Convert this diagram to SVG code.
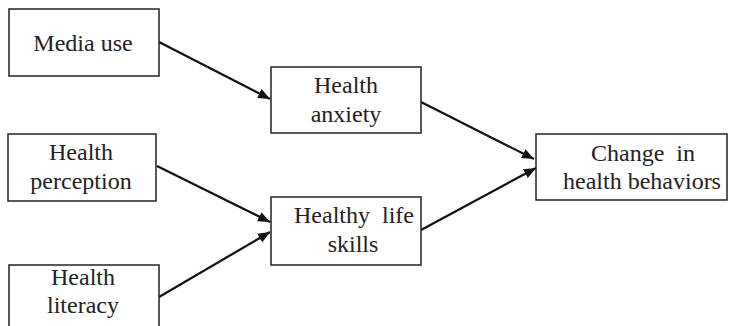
<svg xmlns="http://www.w3.org/2000/svg" width="729" height="326" viewBox="0 0 729 326">
<style>
.box{fill:#fff;stroke:#222;stroke-width:1.5}
.t{font-family:"Liberation Serif","Times New Roman",serif;font-size:24px;fill:#222;text-anchor:middle}
.c{stroke:#111;stroke-width:2.2;fill:none}
</style>
<defs>
<marker id="ah" markerUnits="userSpaceOnUse" markerWidth="14" markerHeight="12" refX="12" refY="5" orient="auto" viewBox="0 0 14 10">
<path d="M0,0 L12,5 L0,10 Z" fill="#111"/>
</marker>
</defs>
<rect width="729" height="326" fill="#fff"/>
<g id="connectors">
<line class="c" x1="159" y1="42" x2="270" y2="99" marker-end="url(#ah)"/>
<line class="c" x1="421" y1="102" x2="534" y2="159" marker-end="url(#ah)"/>
<line class="c" x1="421" y1="230" x2="536" y2="168" marker-end="url(#ah)"/>
<line class="c" x1="157" y1="166" x2="270" y2="222" marker-end="url(#ah)"/>
<line class="c" x1="159" y1="297" x2="270" y2="232" marker-end="url(#ah)"/>
</g>
<g id="media-use">
<rect class="box" x="9" y="9" width="150" height="67"/>
<text class="t" x="83" y="51">Media use</text>
</g>
<g id="health-perception">
<rect class="box" x="8" y="134" width="148" height="67"/>
<text class="t" x="81" y="160">Health</text>
<text class="t" x="81" y="189">perception</text>
</g>
<g id="health-literacy">
<rect class="box" x="9" y="265" width="150" height="70"/>
<text class="t" x="83" y="285">Health</text>
<text class="t" x="83" y="313">literacy</text>
</g>
<g id="health-anxiety">
<rect class="box" x="271" y="67" width="150" height="66"/>
<text class="t" x="346" y="93">Health</text>
<text class="t" x="346" y="122">anxiety</text>
</g>
<g id="healthy-life-skills">
<rect class="box" x="271" y="197" width="150" height="68"/>
<text class="t" x="354" y="223" xml:space="preserve">Healthy  life</text>
<text class="t" x="353" y="252">skills</text>
</g>
<g id="change-health-behaviors">
<rect class="box" x="536" y="134" width="191" height="66"/>
<text class="t" x="643" y="161" xml:space="preserve">Change  in</text>
<text class="t" x="642" y="189">health behaviors</text>
</g>
</svg>
